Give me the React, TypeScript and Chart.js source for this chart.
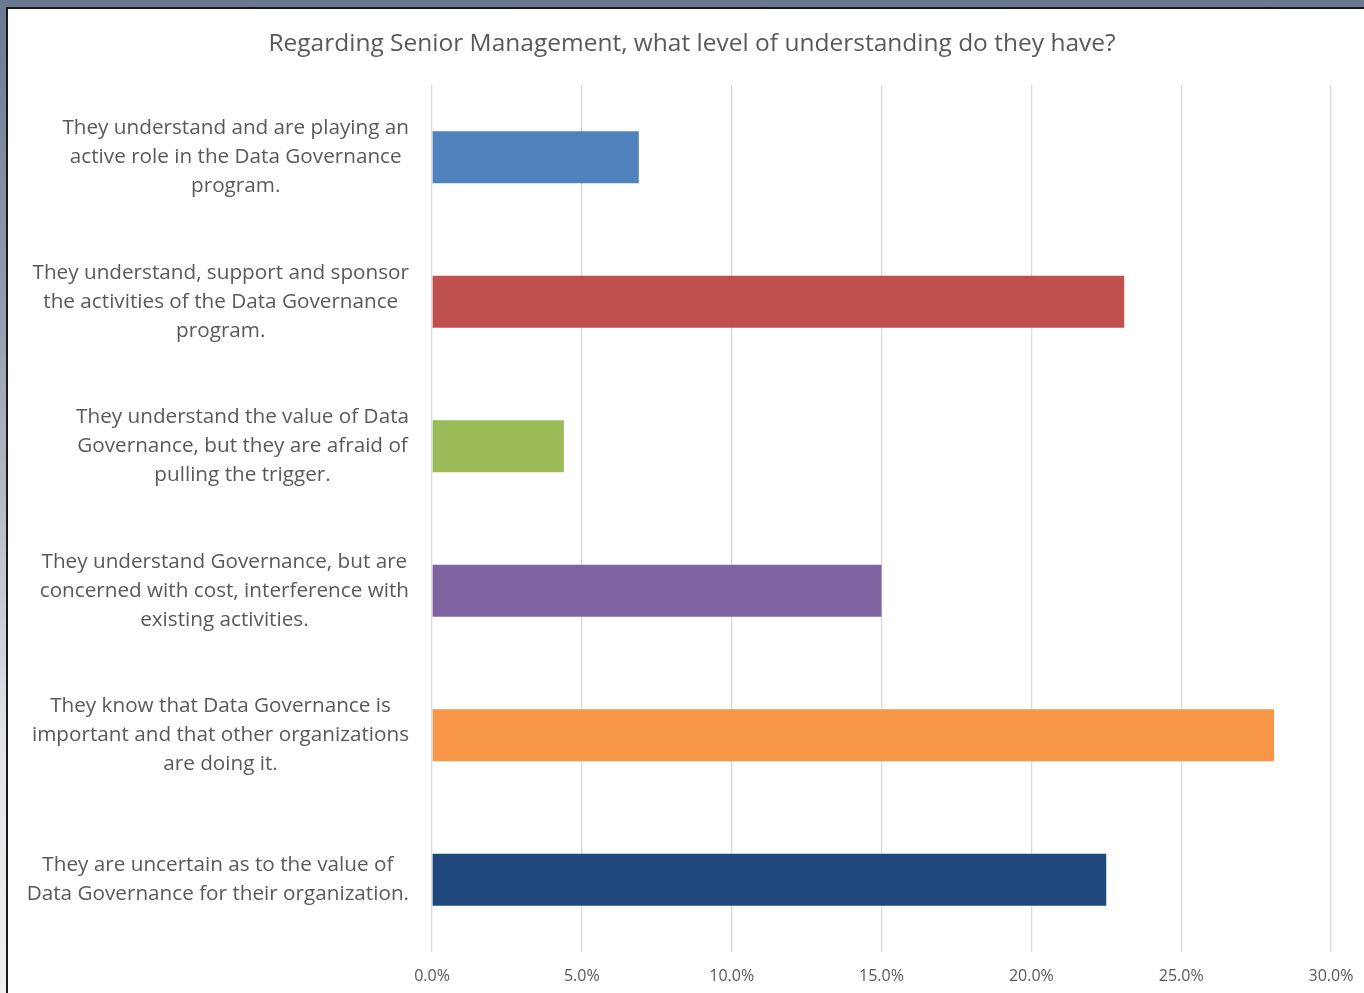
import React, { useEffect, useRef } from "react";
import { Chart, registerables } from "chart.js";

Chart.register(...registerables);

const titleText = "Regarding Senior Management, what level of understanding do they have?";

const categories: string[][] = [
  ["They understand and are playing an", "active role in the Data Governance", "program."],
  ["They understand, support and sponsor", "the activities of the Data Governance", "program."],
  ["They understand the value of Data", "Governance, but they are afraid of", "pulling the trigger."],
  ["They understand Governance, but are", "concerned with cost, interference with", "existing activities."],
  ["They know that Data Governance is", "important and that other organizations", "are doing it."],
  ["They are uncertain as to the value of", "Data Governance for their organization."],
];

const values: number[] = [6.9, 23.1, 4.4, 15.0, 28.1, 22.5];

const barColors: string[] = ["#4F81BD", "#C0504D", "#9BBB59", "#8064A2", "#F79646", "#1F497D"];

const xMin = 0;
const xMax = 30;
const xStep = 5;

const TEXT = "#595959";
const FONT = "'Open Sans', 'Noto Sans', sans-serif";

const labelPlugin = {
  id: "centeredYLabels",
  afterDraw(chart: any) {
    const scale = chart.scales.y;
    const ctx = chart.ctx;
    ctx.save();
    ctx.font = `20.7px ${FONT}`;
    ctx.fillStyle = TEXT;
    ctx.textAlign = "center";
    ctx.textBaseline = "middle";
    const rightEdge = scale.right - 23;
    const lh = 29;
    categories.forEach((lines, i) => {
      const cy = scale.getPixelForValue(i);
      let maxW = 0;
      lines.forEach((l) => {
        maxW = Math.max(maxW, ctx.measureText(l).width);
      });
      const cx = rightEdge - maxW / 2;
      const startY = cy - ((lines.length - 1) * lh) / 2;
      lines.forEach((l, j) => {
        ctx.fillText(l, cx, startY + j * lh);
      });
    });
    ctx.restore();
  },
};

export default function App() {
  const ref = useRef<HTMLCanvasElement | null>(null);

  useEffect(() => {
    if (!ref.current) return;
    const chart = new Chart(ref.current, {
      type: "bar",
      data: {
        labels: categories.map((c) => c.join(" ")),
        datasets: [
          {
            data: values,
            backgroundColor: barColors,
            borderWidth: 0,
            barPercentage: 0.36,
            categoryPercentage: 1,
          },
        ],
      },
      options: {
        indexAxis: "y",
        responsive: false,
        animation: false,
        layout: { padding: { left: 45, right: 45, top: 0, bottom: 10 } },
        plugins: {
          legend: { display: false },
          tooltip: { enabled: false },
          title: {
            display: true,
            text: titleText,
            color: TEXT,
            font: { family: FONT, size: 24.5, weight: "normal" },
            padding: { top: 20.3, bottom: 26.3 },
          },
        },
        scales: {
          x: {
            min: xMin,
            max: xMax,
            grid: { color: "#d9d9d9", lineWidth: 1.3, drawTicks: false },
            border: { display: false },
            ticks: {
              stepSize: xStep,
              color: TEXT,
              font: { family: FONT, size: 16 },
              padding: 14.4,
              callback: (v: any) => Number(v).toFixed(1) + "%",
            },
          },
          y: {
            grid: { display: false },
            border: { display: false },
            ticks: { display: false },
            afterFit: (s: any) => {
              s.width = 379;
            },
          },
        },
      },
      plugins: [labelPlugin],
    });
    return () => chart.destroy();
  }, []);

  return (
    <div
      style={{
        position: "fixed",
        inset: 0,
        overflow: "hidden",
        background: "linear-gradient(to bottom, #6b7891 0%, #9aa3b2 35%, #e2e4e8 75%, #f0f0f0 100%)",
      }}
    >
      <div
        style={{
          position: "absolute",
          left: 6,
          top: 7,
          right: -60,
          bottom: -40,
          borderTop: "2px solid #1a1a1a",
          borderLeft: "2px solid #1a1a1a",
          background: "#fff",
          overflow: "hidden",
        }}
      >
        <canvas ref={ref} width={1368} height={1001} style={{ display: "block" }} />
      </div>
    </div>
  );
}
